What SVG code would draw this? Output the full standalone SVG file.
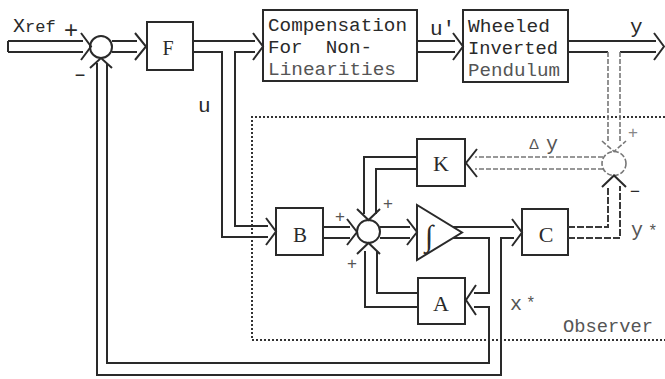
<svg xmlns="http://www.w3.org/2000/svg" width="665" height="379" viewBox="0 0 665 379">
<style>
.ln{fill:none;stroke:#2a2a2a;stroke-width:2}
.fl{fill:none;stroke:#777;stroke-width:1.6;stroke-dasharray:5 2}
.dl{fill:none;stroke:#3a3a3a;stroke-width:2;stroke-dasharray:7 2}
.bx{fill:none;stroke:#2a2a2a;stroke-width:2}
.ob{fill:none;stroke:#333;stroke-width:2;stroke-dasharray:2 2}
.mono{font-family:"Liberation Mono","DejaVu Sans Mono",monospace}
.ser{font-family:"Liberation Serif","DejaVu Serif",serif}
.sgn{font-family:"Liberation Sans",Arial,sans-serif}
.dk{fill:#2a2a2a}
.md{fill:#555}
.lt{fill:#888}
</style>
<rect width="665" height="379" fill="#fff"/>
<g id="observer">
<path class="ob" d="M665,117 H252 V340 H665"/>
<text class="mono md" x="563" y="332" font-size="19" textLength="90" lengthAdjust="spacingAndGlyphs">Observer</text>
</g>
<g id="sum1"><circle class="ln" cx="101" cy="47" r="11"/></g>
<g id="F"><rect class="bx" x="147" y="22" width="46" height="48"/><text class="ser dk" x="168" y="55" font-size="20" text-anchor="middle">F</text></g>
<g id="comp"><rect class="bx" x="263" y="10" width="154" height="71"/>
<text class="mono dk" x="268" y="31" font-size="19" textLength="139" lengthAdjust="spacingAndGlyphs">Compensation</text>
<text class="mono dk" x="268" y="53" font-size="19" textLength="104" lengthAdjust="spacingAndGlyphs" xml:space="preserve">For  Non-</text>
<text class="mono md" x="268" y="75" font-size="19" textLength="128" lengthAdjust="spacingAndGlyphs">Linearities</text></g>
<g id="plant"><rect class="bx" x="463" y="10" width="105" height="72"/>
<text class="mono dk" x="468" y="32" font-size="19" textLength="82" lengthAdjust="spacingAndGlyphs">Wheeled</text>
<text class="mono dk" x="468" y="54" font-size="19" textLength="90" lengthAdjust="spacingAndGlyphs">Inverted</text>
<text class="mono md" x="468" y="76" font-size="19" textLength="92" lengthAdjust="spacingAndGlyphs">Pendulum</text></g>
<g id="B"><rect class="bx" x="276" y="208" width="47" height="47"/><text class="ser dk" x="300" y="242" font-size="21" text-anchor="middle">B</text></g>
<g id="sum2"><circle class="ln" cx="368.5" cy="231.5" r="11.5"/></g>
<g id="integrator"><polygon class="ln" points="417,205 417,260 462,232.5"/><text class="ser dk" x="429" y="246" font-size="30" text-anchor="middle">∫</text></g>
<g id="C"><rect class="bx" x="522" y="209" width="46" height="46"/><text class="ser dk" x="546" y="242" font-size="22" text-anchor="middle">C</text></g>
<g id="K"><rect class="bx" x="417" y="139" width="48" height="47"/><text class="ser dk" x="441" y="171" font-size="22" text-anchor="middle">K</text></g>
<g id="A"><rect class="bx" x="418" y="278" width="47" height="46"/><text class="ser dk" x="441" y="311" font-size="22" text-anchor="middle">A</text></g>
<g id="sum3"><circle class="fl" cx="614" cy="163.5" r="12"/></g>
<g id="connectors">
<path class="ln" d="M8,41 H83 M8,52 H83 M8,41 V52 M81,33 L91,46.5 L81,60"/>
<path class="ln" d="M112,41 H137 M112,52 H137 M135,33 L146,46.5 L135,60"/>
<path class="ln" d="M193,41 H255 M193,52 H222 V237 H268 M255,52 H235 V226 H268 M253,33 L263,46.5 L253,60 M266,218 L276,231.5 L266,245"/>
<path class="ln" d="M417,41 H455 M417,52 H455 M453,33 L463,46.5 L453,60"/>
<path class="ln" d="M568,41 H656 M568,52 H608 M620,52 H656 M654,33 L664,46.5 L654,60"/>
<path class="fl" d="M608,52 V143 M620,52 V143 M602,141 L614,151.5 L626,141"/>
<path class="fl" d="M603,157 H475 M603,169 H475"/>
<path class="ln" d="M477,149 L466,163 L477,177"/>
<path class="ln" d="M417,157 H364 V214 M417,169 H376 V214 M357,209 L368.5,220 L380,209"/>
<path class="ln" d="M323,227 H350 M323,238 H350 M347,219 L357,232 L347,245"/>
<path class="ln" d="M380,227 H410 M380,238 H410 M407,219 L417,232 L407,245"/>
<path class="ln" d="M453,227 H514 M453,238 H489 V293 H474 M474,307 H489 V363 H107 V63 M97,63 V375 H501 V238 H514 M512,219 L522,232.5 L512,246 M476,285 L466,300 L476,315 M90,68 L101,58 L112,68"/>
<path class="dl" d="M568,227 H608 V186 M568,238 H620 V186"/>
<path class="ln" d="M602,187 L614,175.5 L626,187"/>
<path class="ln" d="M418,293 H377 V251 M418,307 H365 V251 M357,254 L368.5,243 L380,254"/>
</g>
<g id="labels">
<text class="mono dk" x="13" y="32" font-size="20">X<tspan font-size="17">ref</tspan></text>
<text class="sgn dk" x="71" y="38" font-size="24" text-anchor="middle">+</text>
<text class="sgn dk" x="80" y="81" font-size="18" text-anchor="middle">−</text>
<text class="mono dk" x="198" y="112" font-size="21">u</text>
<text class="mono dk" x="430" y="35" font-size="21">u'</text>
<text class="mono dk" x="630" y="33" font-size="21">y</text>
<text class="sgn md" x="534" y="149" font-size="15" text-anchor="middle">Δ</text>
<text class="mono md" x="546" y="150" font-size="20">y</text>
<text class="mono md" x="631" y="236" font-size="20">y</text>
<text class="mono md" x="648" y="236" font-size="16">*</text>
<text class="mono md" x="510" y="310" font-size="20">x</text>
<text class="mono md" x="526" y="308" font-size="16">*</text>
<text class="sgn md" x="340" y="222" font-size="17" text-anchor="middle">+</text>
<text class="sgn md" x="388" y="209" font-size="17" text-anchor="middle">+</text>
<text class="sgn md" x="352" y="269" font-size="17" text-anchor="middle">+</text>
<text class="sgn lt" x="633" y="138" font-size="17" text-anchor="middle">+</text>
<text class="sgn dk" x="635" y="197" font-size="17" text-anchor="middle">−</text>
</g>
</svg>
